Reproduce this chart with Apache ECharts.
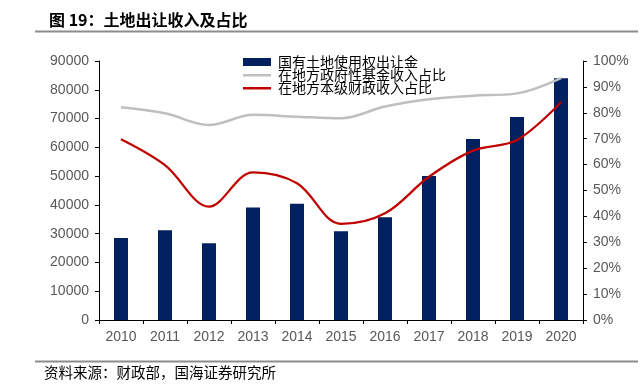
<!DOCTYPE html>
<html>
<head>
<meta charset="utf-8">
<script src="https://cdn.jsdelivr.net/npm/echarts@6/dist/echarts.min.js"></script>
<style>html,body{margin:0;padding:0;background:#fff}#c{width:644px;height:388px}</style>
</head>
<body>
<div id="c"></div>
<script>
const years = ['2010','2011','2012','2013','2014','2015','2016','2017','2018','2019','2020'];
const landRevenue = [28500, 31200, 26700, 39100, 40400, 30800, 35700, 50000, 62900, 70500, 84000];
const fundShare = [82.1, 79.8, 75.3, 79.2, 78.5, 77.9, 82.4, 85.2, 86.6, 87.5, 93.4];
const budgetShare = [69.8, 59.8, 43.8, 57.0, 52.8, 37.1, 41.2, 55.3, 65.4, 69.5, 84.1];
const seriesNames = ['国有土地使用权出让金', '在地方政府性基金收入占比', '在地方本级财政收入占比'];

const chart = echarts.init(document.getElementById('c'));
const axisLabel = {color:'#595959', fontSize:14, fontFamily:'Liberation Sans, Arial, sans-serif'};
const axisLine = {show:true, lineStyle:{color:'#000', width:1}};
const lineIcon = 'path://M0,0 L0.01,0 Z M0,3 L28,3 L28,5.5 L0,5.5 Z M0,8 L0.01,8 Z';
chart.setOption({
  animation:false,
  title:{text:'图 19：土地出让收入及占比', left:44, top:7,
    textStyle:{fontSize:16, fontWeight:'bold', color:'#000', fontFamily:'Noto Sans CJK SC'}},
  graphic:[
    {type:'line', shape:{x1:35,y1:31.5,x2:638,y2:31.5}, style:{stroke:'#8c8c8c', lineWidth:2}},
    {type:'line', shape:{x1:35,y1:361.5,x2:638,y2:361.5}, style:{stroke:'#8c8c8c', lineWidth:2}},
    {type:'text', left:44, top:365, style:{text:'资料来源：财政部，国海证券研究所', fontSize:14.5, fill:'#000', fontFamily:'Noto Sans CJK SC'}}
  ],
  legend:{orient:'vertical', left:238, top:50, itemWidth:28, itemHeight:8, itemGap:-1,
    textStyle:{fontSize:14, lineHeight:13, color:'#000', fontFamily:'Noto Sans CJK SC', padding:[0,0,0,2]},
    data:[{name:seriesNames[0], icon:'rect'}, {name:seriesNames[1], icon:lineIcon}, {name:seriesNames[2], icon:lineIcon}]},
  grid:{left:99, right:61, top:61, bottom:68},
  xAxis:{type:'category', data:years, boundaryGap:true,
    axisLine:axisLine, axisTick:{show:true, length:4, lineStyle:{color:'#000'}},
    axisLabel:Object.assign({margin:10}, axisLabel)},
  yAxis:[
    {type:'value', min:0, max:90000, interval:10000, splitLine:{show:false},
      axisLine:axisLine, axisTick:{show:true, length:4, lineStyle:{color:'#000'}},
      axisLabel:Object.assign({margin:10, formatter:function(v){return String(v);}}, axisLabel)},
    {type:'value', min:0, max:100, interval:10, splitLine:{show:false}, position:'right',
      axisLine:axisLine, axisTick:{show:true, length:4, lineStyle:{color:'#000'}},
      axisLabel:Object.assign({margin:10, formatter:'{value}%'}, axisLabel)}
  ],
  series:[
    {name:seriesNames[0], type:'bar', data:landRevenue, barWidth:14, itemStyle:{color:'#002060'}},
    {name:seriesNames[1], type:'line', yAxisIndex:1, data:fundShare, smooth:0.35, symbol:'none',
      lineStyle:{color:'#BFBFBF', width:2.5}, itemStyle:{color:'#BFBFBF'}},
    {name:seriesNames[2], type:'line', yAxisIndex:1, data:budgetShare, smooth:0.35, symbol:'none',
      lineStyle:{color:'#C00000', width:2.25}, itemStyle:{color:'#C00000'}}
  ]
});
</script>
</body>
</html>
